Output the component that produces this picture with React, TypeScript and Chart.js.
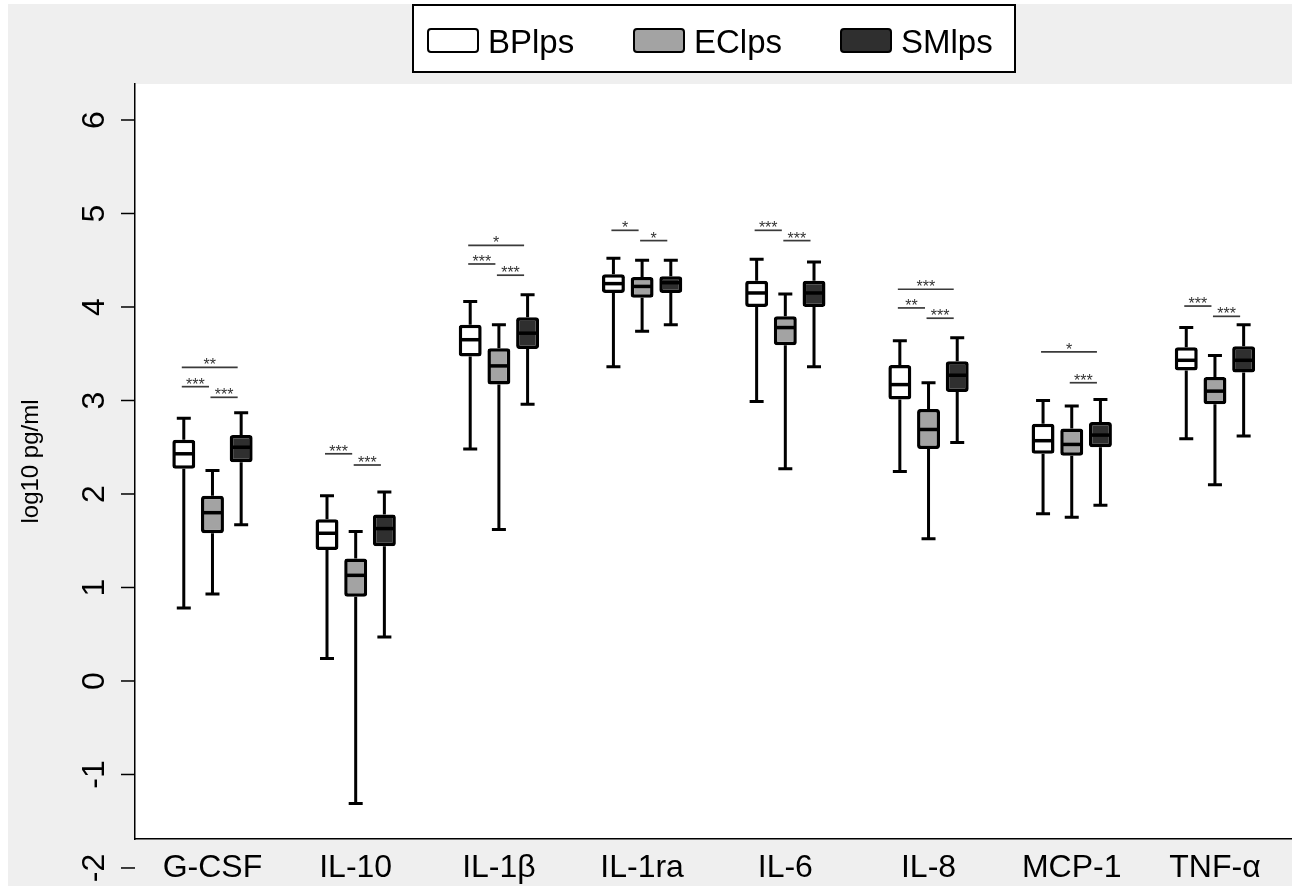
import React, { useEffect, useRef } from 'react';
import { Chart, registerables } from 'chart.js';

Chart.register(...registerables);

const FONT = "'Liberation Sans', Arial, Helvetica, sans-serif";

const categories = ['G-CSF', 'IL-10', 'IL-1β', 'IL-1ra', 'IL-6', 'IL-8', 'MCP-1', 'TNF-α'];
const seriesNames = ['BPlps', 'EClps', 'SMlps'];
const seriesColors = ['#ffffff', '#a3a3a3', '#2f2f2f'];
const yTickValues = [-2, -1, 0, 1, 2, 3, 4, 5, 6];
const yTitle = 'log10 pg/ml';

// BPlps
const bpMin = [0.78, 0.24, 2.48, 3.36, 2.99, 2.24, 1.79, 2.59];
const bpQ1 = [2.27, 1.40, 3.47, 4.15, 4.00, 3.01, 2.43, 3.32];
const bpMed = [2.43, 1.58, 3.65, 4.25, 4.15, 3.17, 2.57, 3.43];
const bpQ3 = [2.58, 1.73, 3.81, 4.35, 4.28, 3.38, 2.75, 3.57];
const bpMax = [2.81, 1.98, 4.06, 4.52, 4.51, 3.64, 3.00, 3.78];
// EClps
const ecMin = [0.93, -1.31, 1.62, 3.74, 2.27, 1.52, 1.75, 2.10];
const ecQ1 = [1.58, 0.90, 3.17, 4.10, 3.59, 2.48, 2.41, 2.96];
const ecMed = [1.80, 1.13, 3.37, 4.22, 3.78, 2.69, 2.53, 3.10];
const ecQ3 = [1.98, 1.31, 3.56, 4.32, 3.90, 2.91, 2.70, 3.25];
const ecMax = [2.25, 1.60, 3.81, 4.50, 4.14, 3.19, 2.94, 3.48];
// SMlps
const smMin = [1.67, 0.47, 2.96, 3.81, 3.36, 2.55, 1.88, 2.62];
const smQ1 = [2.34, 1.44, 3.55, 4.15, 4.00, 3.09, 2.50, 3.30];
const smMed = [2.50, 1.63, 3.72, 4.26, 4.15, 3.27, 2.63, 3.43];
const smQ3 = [2.63, 1.78, 3.89, 4.33, 4.28, 3.42, 2.77, 3.58];
const smMax = [2.87, 2.02, 4.13, 4.50, 4.48, 3.67, 3.01, 3.81];

// significance annotations
const sigCategory = [0, 0, 0, 1, 1, 2, 2, 2, 3, 3, 4, 4, 5, 5, 5, 6, 6, 7, 7];
const sigFrom = [0, 0, 1, 0, 1, 0, 0, 1, 0, 1, 0, 1, 0, 0, 1, 0, 1, 0, 1];
const sigTo = [2, 1, 2, 1, 2, 2, 1, 2, 1, 2, 1, 2, 2, 1, 2, 2, 2, 1, 2];
const sigLevel = [3.355, 3.148, 3.034, 2.43, 2.31, 4.66, 4.46, 4.34, 4.82, 4.71, 4.82, 4.71, 4.19, 3.99, 3.88, 3.52, 3.19, 4.01, 3.90];
const sigLabel = ['**', '***', '***', '***', '***', '*', '***', '***', '*', '*', '***', '***', '***', '**', '***', '*', '***', '***', '***'];

const mins = [bpMin, ecMin, smMin];
const q1s = [bpQ1, ecQ1, smQ1];
const meds = [bpMed, ecMed, smMed];
const q3s = [bpQ3, ecQ3, smQ3];
const maxs = [bpMax, ecMax, smMax];

const boxPlugin = {
  id: 'boxDetails',
  beforeDraw(chart: any) {
    const { ctx, chartArea } = chart;
    ctx.save();
    ctx.fillStyle = '#ffffff';
    ctx.fillRect(0, 0, chart.width, chart.height);
    ctx.fillStyle = '#efefef';
    ctx.fillRect(8, 4, chart.width - 8, chart.height - 4);
    ctx.fillStyle = '#ffffff';
    ctx.fillRect(chartArea.left, chartArea.top, chartArea.right - chartArea.left, chartArea.bottom - chartArea.top);
    ctx.restore();
  },
  beforeDatasetsDraw(chart: any) {
    const { ctx } = chart;
    const y = chart.scales.y;
    ctx.save();
    ctx.strokeStyle = '#000';
    ctx.lineWidth = 3;
    ctx.lineCap = 'butt';
    for (let s = 0; s < 3; s++) {
      const meta = chart.getDatasetMeta(s);
      meta.data.forEach((bar: any, j: number) => {
        const x = bar.x;
        const pMin = y.getPixelForValue(mins[s][j]);
        const pMax = y.getPixelForValue(maxs[s][j]);
        const pQ1 = y.getPixelForValue(q1s[s][j]);
        const pQ3 = y.getPixelForValue(q3s[s][j]);
        ctx.beginPath();
        ctx.moveTo(x, pQ3);
        ctx.lineTo(x, pMax);
        ctx.moveTo(x, pQ1);
        ctx.lineTo(x, pMin);
        ctx.moveTo(x - 7, pMax);
        ctx.lineTo(x + 7, pMax);
        ctx.moveTo(x - 7, pMin);
        ctx.lineTo(x + 7, pMin);
        ctx.stroke();
      });
    }
    ctx.restore();
  },
  afterDatasetsDraw(chart: any) {
    const { ctx } = chart;
    const y = chart.scales.y;
    ctx.save();
    ctx.strokeStyle = '#000';
    ctx.lineWidth = 3.5;
    for (let s = 0; s < 3; s++) {
      const meta = chart.getDatasetMeta(s);
      meta.data.forEach((bar: any, j: number) => {
        const x = bar.x;
        const w = bar.width;
        const pMed = y.getPixelForValue(meds[s][j]);
        ctx.beginPath();
        ctx.moveTo(x - w / 2 + 2, pMed);
        ctx.lineTo(x + w / 2 - 2, pMed);
        ctx.stroke();
      });
    }
    // significance
    ctx.strokeStyle = '#3a3a3a';
    ctx.fillStyle = '#333333';
    ctx.lineWidth = 1.7;
    ctx.font = `16px ${FONT}`;
    ctx.textAlign = 'center';
    ctx.textBaseline = 'alphabetic';
    for (let k = 0; k < sigCategory.length; k++) {
      const c = sigCategory[k];
      const xa = chart.getDatasetMeta(sigFrom[k]).data[c].x - 2;
      const xb = chart.getDatasetMeta(sigTo[k]).data[c].x - 3.5;
      const py = y.getPixelForValue(sigLevel[k]);
      ctx.beginPath();
      ctx.moveTo(xa, py);
      ctx.lineTo(xb, py);
      ctx.stroke();
      ctx.fillText(sigLabel[k], (xa + xb) / 2, py + 3);
    }
    ctx.restore();
  },
  afterDraw(chart: any) {
    const { ctx } = chart;
    const y = chart.scales.y;
    const axisX = chart.chartArea.left;
    ctx.save();
    // y ticks
    ctx.strokeStyle = '#000';
    ctx.lineWidth = 1.5;
    ctx.fillStyle = '#000';
    ctx.font = `32px ${FONT}`;
    ctx.textAlign = 'center';
    ctx.textBaseline = 'middle';
    yTickValues.forEach((v) => {
      const py = y.getPixelForValue(v);
      ctx.beginPath();
      ctx.moveTo(axisX - 14, py);
      ctx.lineTo(axisX, py);
      ctx.stroke();
      ctx.save();
      ctx.translate(axisX - 40, py);
      ctx.rotate(-Math.PI / 2);
      ctx.fillText(String(v), 0, 0);
      ctx.restore();
    });
    // legend
    const bx = 413, by = 5, bw = 602, bh = 67;
    ctx.fillStyle = '#ffffff';
    ctx.fillRect(bx, by, bw, bh);
    ctx.lineWidth = 2;
    ctx.strokeStyle = '#000';
    ctx.strokeRect(bx, by, bw, bh);
    const swX = [428, 634, 841];
    ctx.font = `33px ${FONT}`;
    ctx.textAlign = 'left';
    ctx.textBaseline = 'alphabetic';
    for (let i = 0; i < 3; i++) {
      ctx.beginPath();
      ctx.roundRect(swX[i], 29, 50, 23, 3);
      ctx.fillStyle = seriesColors[i];
      ctx.fill();
      ctx.lineWidth = 2;
      ctx.strokeStyle = '#000';
      ctx.stroke();
      ctx.fillStyle = '#000';
      ctx.fillText(seriesNames[i], swX[i] + 60, 53);
    }
    ctx.restore();
  },
};

export default function App() {
  const ref = useRef<HTMLCanvasElement | null>(null);
  useEffect(() => {
    if (!ref.current) return;
    const datasets = seriesNames.map((name, s) => ({
      label: name,
      data: categories.map((_, j) => ({ x: j + 1, y: [q1s[s][j], q3s[s][j]] })),
      backgroundColor: seriesColors[s],
      borderColor: '#000',
      borderWidth: 3.5,
      borderSkipped: false,
      borderRadius: 3,
      categoryPercentage: 0.601,
      barPercentage: 0.8,
    }));
    const chart = new Chart(ref.current, {
      type: 'bar',
      data: { datasets } as any,
      plugins: [boxPlugin],
      options: {
        responsive: false,
        animation: false,
        events: [],
        layout: { padding: { top: 84, left: 0, right: 0, bottom: 0 } },
        plugins: { legend: { display: false }, tooltip: { enabled: false } },
        scales: {
          x: {
            type: 'linear',
            min: 0.459,
            max: 8.538,
            offset: false,
            grid: { display: false, drawTicks: false },
            border: { display: true, color: '#000', width: 1.5 },
            ticks: {
              includeBounds: false,
              autoSkip: false,
              minRotation: 0,
              maxRotation: 0,
              padding: 10,
              color: '#000',
              font: { family: FONT, size: 32 },
              callback: (v: any) => categories[Number(v) - 1] ?? '',
            },
            afterBuildTicks: (s: any) => {
              s.ticks = categories.map((_, i) => ({ value: i + 1 }));
            },
            afterFit: (s: any) => {
              s.height = 47;
            },
          },
          y: {
            min: -1.69,
            max: 6.385,
            grid: { display: false, drawTicks: false },
            border: { display: true, color: '#000', width: 1.5 },
            ticks: { display: false },
            title: {
              display: true,
              text: yTitle,
              color: '#000',
              font: { family: FONT, size: 24 },
              padding: { top: 17, bottom: 0 },
            },
            afterFit: (s: any) => {
              s.width = 135;
            },
          },
        },
      } as any,
    });
    return () => chart.destroy();
  }, []);
  return (
    <div style={{ position: 'absolute', left: 0, top: 0, width: 1292, height: 886 }}>
      <canvas ref={ref} width={1292} height={886} style={{ display: 'block', width: 1292, height: 886 }} />
    </div>
  );
}
